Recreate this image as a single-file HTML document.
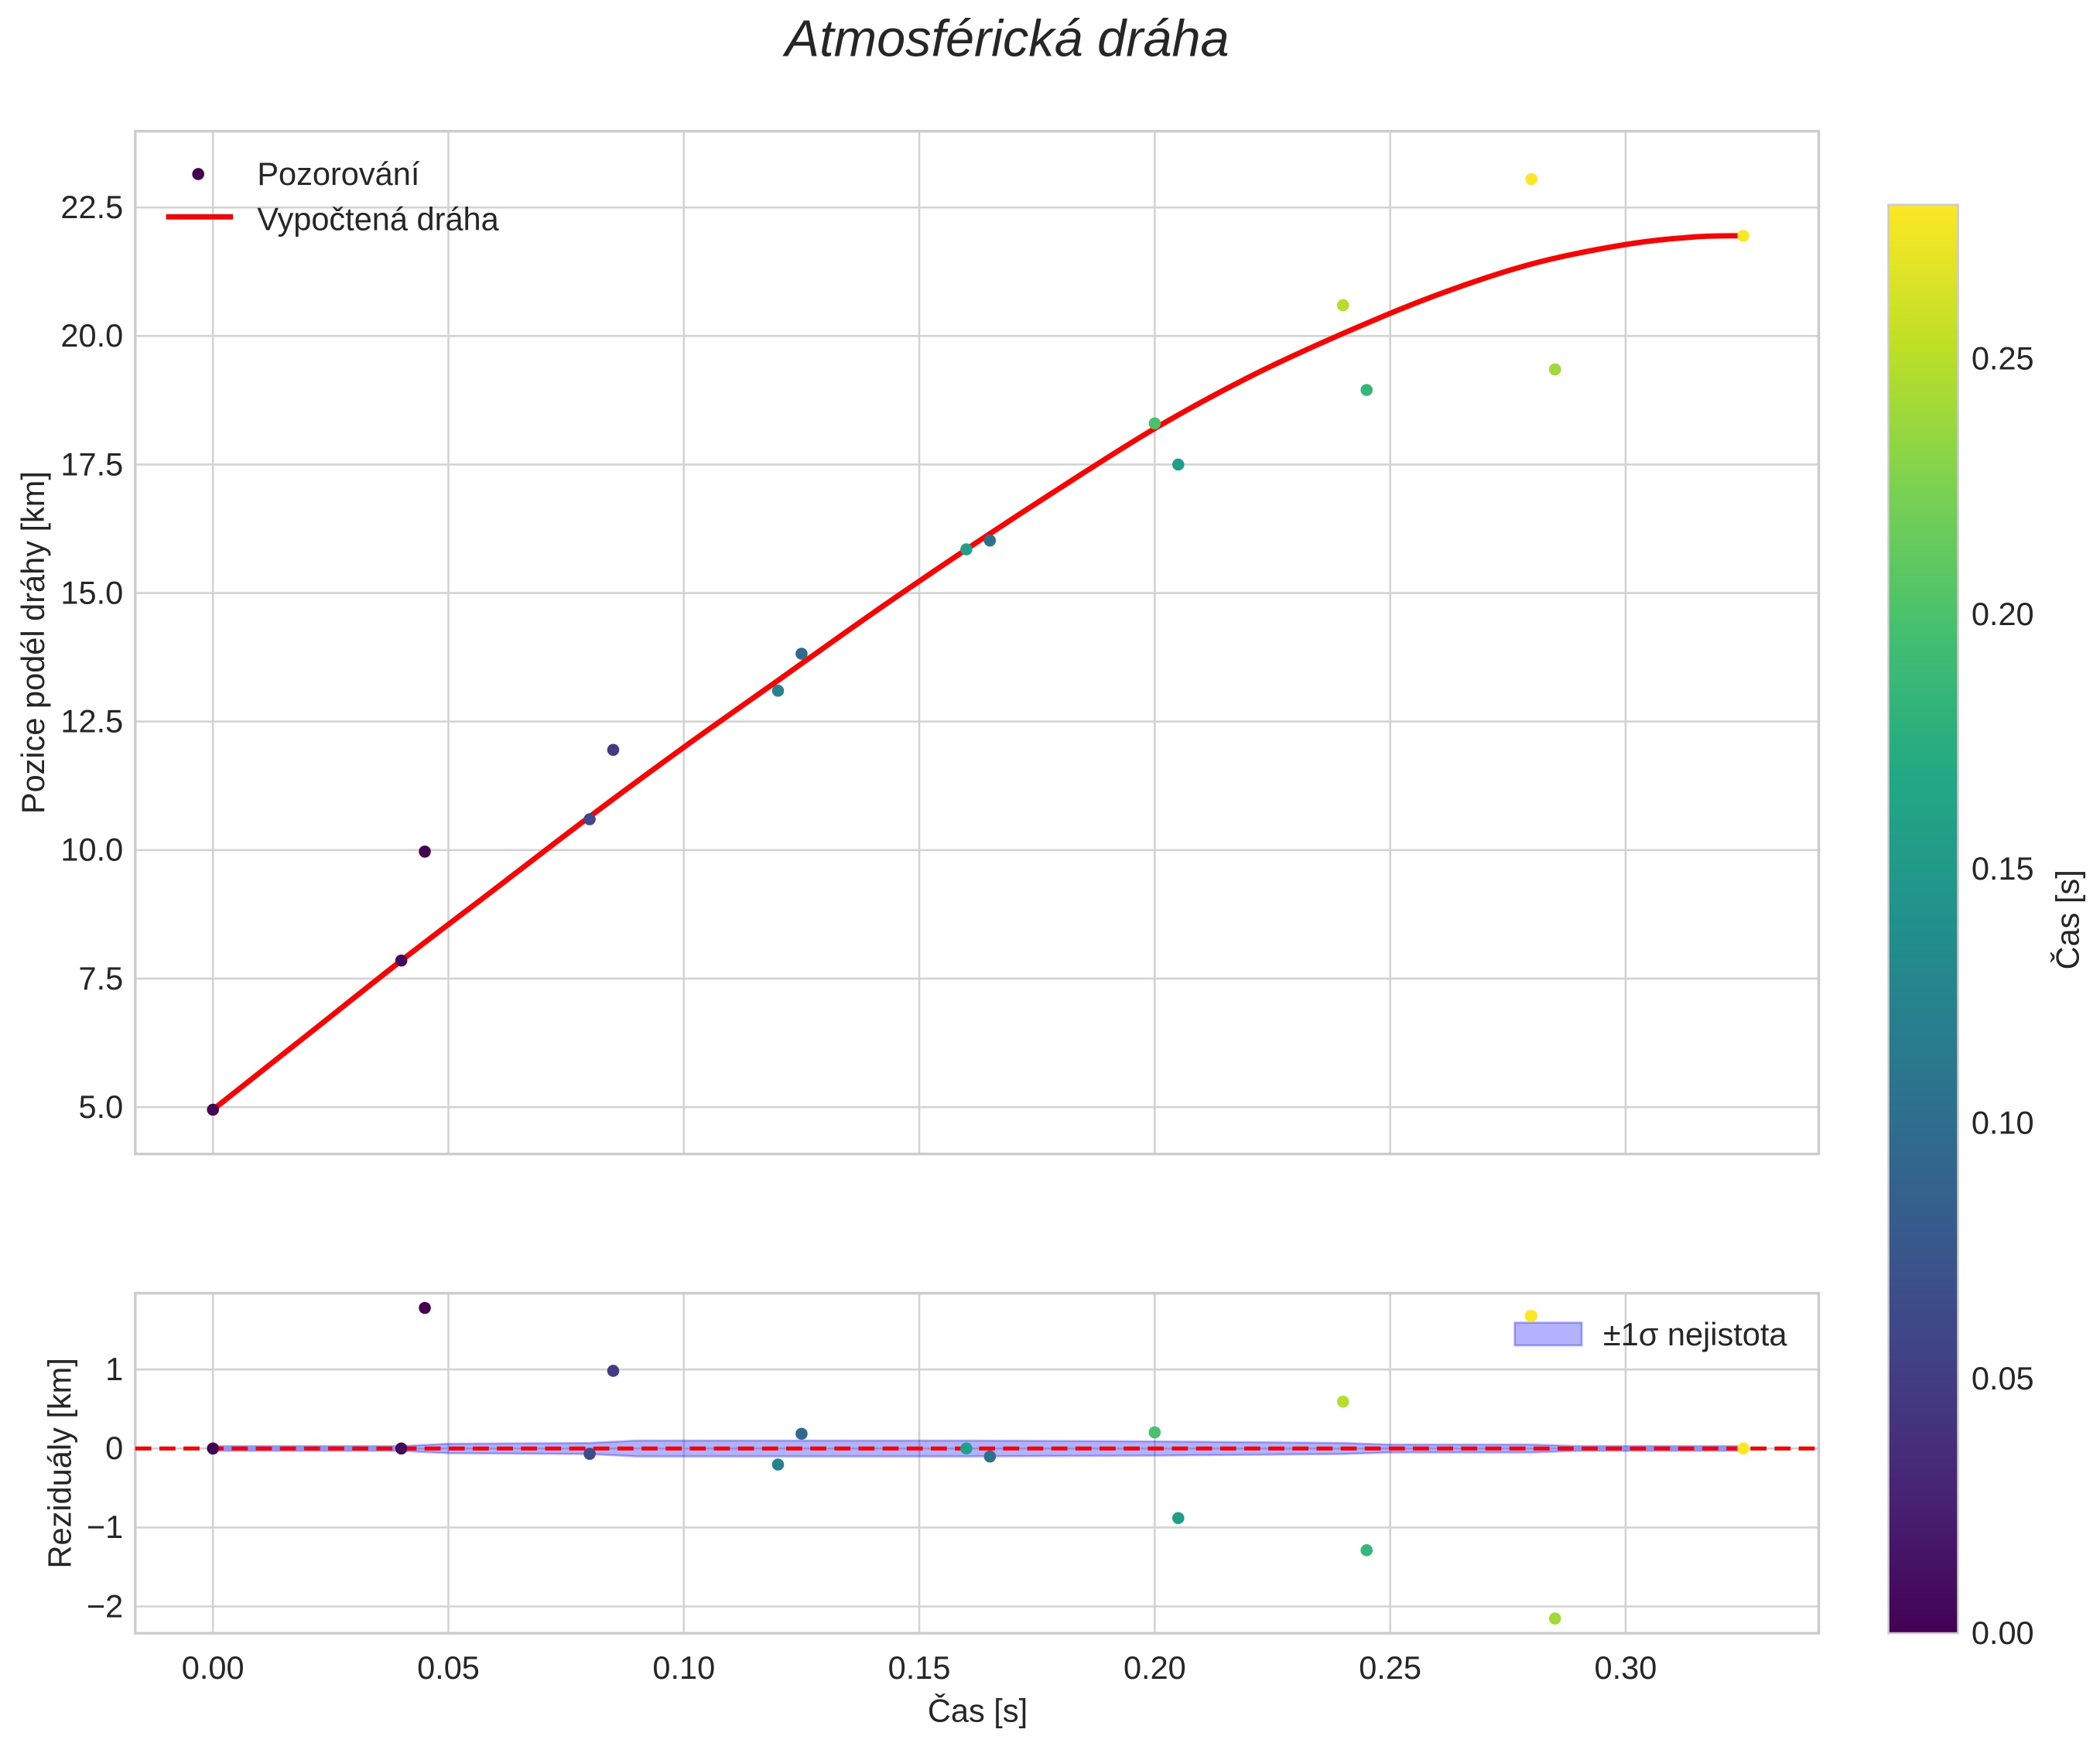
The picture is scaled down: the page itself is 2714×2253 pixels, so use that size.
<!DOCTYPE html>
<html><head><meta charset="utf-8"><style>html,body{margin:0;padding:0;background:#fff}svg{display:block}</style></head>
<body>
<svg id="s" xmlns="http://www.w3.org/2000/svg" width="2714" height="2253" viewBox="0 0 1568 1302" preserveAspectRatio="none" font-family="Liberation Sans, DejaVu Sans, sans-serif">
<defs>
<linearGradient id="vir" x1="0" y1="1" x2="0" y2="0">
<stop offset="0" stop-color="#440154"/><stop offset="0.1" stop-color="#482475"/><stop offset="0.2" stop-color="#414487"/><stop offset="0.3" stop-color="#355f8d"/><stop offset="0.4" stop-color="#2a788e"/><stop offset="0.5" stop-color="#21918c"/><stop offset="0.6" stop-color="#22a884"/><stop offset="0.7" stop-color="#44bf70"/><stop offset="0.8" stop-color="#7ad151"/><stop offset="0.9" stop-color="#bddf26"/><stop offset="1" stop-color="#fde725"/>
</linearGradient>
</defs>
<rect width="1568" height="1302" fill="#fff"/>
<text x="752" y="42" font-size="38.5" font-style="italic" text-anchor="middle" fill="#262626">Atmosférická dráha</text>
<g id="gtop"></g>
<g id="gbot"></g>
<rect x="1410" y="153" width="52" height="1067" fill="url(#vir)" stroke="#ccc" stroke-width="1.5"/>
<g font-size="24" fill="#262626">
<text x="1472" y="1228">0.00</text><text x="1472" y="1038">0.05</text><text x="1472" y="847">0.10</text><text x="1472" y="657">0.15</text><text x="1472" y="467">0.20</text><text x="1472" y="276">0.25</text>
</g>
<text transform="translate(1552,687) rotate(-90)" font-size="24" text-anchor="middle" fill="#262626">Čas [s]</text>
</svg>
<script>
(function(){
const NS="http://www.w3.org/2000/svg";
function el(p,n,a,t){const e=document.createElementNS(NS,n);for(const k in a)e.setAttribute(k,a[k]);if(t!==undefined)e.textContent=t;p.appendChild(e);return e;}
const X=t=>159+3516*t;
const YT=v=>827-(v-5)*38.4;
const YB=v=>1082-v*59;
const gTop=document.getElementById('gtop'),gBot=document.getElementById('gbot');
const L=101,R=1358,FS=24;
const xt=[0,0.05,0.1,0.15,0.2,0.25,0.3];
[[gTop,98,862],[gBot,966,1220]].forEach(function(a){var g=a[0],t=a[1],b=a[2];xt.forEach(v=>el(g,'line',{x1:X(v),x2:X(v),y1:t,y2:b,stroke:'#d3d3d3','stroke-width':1.5}));});
[5,7.5,10,12.5,15,17.5,20,22.5].forEach(v=>{el(gTop,'line',{x1:L,x2:R,y1:YT(v),y2:YT(v),stroke:'#d3d3d3','stroke-width':1.5});el(gTop,'text',{x:92,y:YT(v)+8,'font-size':FS,'text-anchor':'end',fill:'#262626'},v.toFixed(1));});
[1,0,-1,-2].forEach(v=>{el(gBot,'line',{x1:L,x2:R,y1:YB(v),y2:YB(v),stroke:'#d3d3d3','stroke-width':1.5});el(gBot,'text',{x:92,y:YB(v)+8,'font-size':FS,'text-anchor':'end',fill:'#262626'},v<0?'\u2212'+(-v):''+v);});
xt.forEach(v=>el(gBot,'text',{x:X(v),y:1254,'font-size':FS,'text-anchor':'middle',fill:'#262626'},v.toFixed(2)));
el(gBot,'text',{x:730,y:1286,'font-size':24,'text-anchor':'middle',fill:'#262626'},'Čas [s]');
el(gTop,'text',{transform:'translate(33,480) rotate(-90)','font-size':24,'text-anchor':'middle',fill:'#262626'},'Pozice podél dráhy [km]');
el(gBot,'text',{transform:'translate(53,1093) rotate(-90)','font-size':24,'text-anchor':'middle',fill:'#262626'},'Reziduály [km]');
el(gTop,'rect',{x:L,y:98,width:R-L,height:764,fill:'none',stroke:'#ccc','stroke-width':2});
el(gBot,'rect',{x:L,y:966,width:R-L,height:254,fill:'none',stroke:'#ccc','stroke-width':2});
const cv=[[0,4.95],[0.02,6.4],[0.04,7.85],[0.06,9.25],[0.08,10.65],[0.1,12.0],[0.12,13.3],[0.14,14.6],[0.16,15.85],[0.18,17.05],[0.2,18.2],[0.22,19.2],[0.24,20.05],[0.26,20.8],[0.28,21.4],[0.3,21.78],[0.315,21.93],[0.325,21.95]];
const P=cv.map(p=>[X(p[0]),YT(p[1])]);
let d='M'+P[0][0]+','+P[0][1];
for(let i=0;i<P.length-1;i++){const p0=P[Math.max(0,i-1)],p1=P[i],p2=P[i+1],p3=P[Math.min(P.length-1,i+2)];
const c1=[p1[0]+(p2[0]-p0[0])/6,p1[1]+(p2[1]-p0[1])/6],c2=[p2[0]-(p3[0]-p1[0])/6,p2[1]-(p3[1]-p1[1])/6];
d+=' C'+c1[0]+','+c1[1]+' '+c2[0]+','+c2[1]+' '+p2[0]+','+p2[1];}
el(gTop,'path',{d:d,fill:'none',stroke:'#ff0000','stroke-width':4,'stroke-linejoin':'round','stroke-linecap':'round'});
const pts=[[0,4.95,1082,'#440154'],[0.04,7.85,1082,'#46085c'],[0.045,9.97,977,'#440154'],[0.08,10.6,1086,'#3e4a89'],[0.085,11.95,1024,'#443983'],[0.12,13.1,1094,'#26828e'],[0.125,13.82,1071,'#31688e'],[0.16,15.85,1082,'#1fa088'],[0.165,16.02,1088,'#2c728e'],[0.2,18.3,1070,'#4ac16d'],[0.205,17.5,1134,'#1f9e89'],[0.24,20.6,1047,'#b5de2b'],[0.245,18.95,1158,'#35b779'],[0.28,23.05,983,'#fde725'],[0.285,19.35,1209,'#a0da39'],[0.325,21.95,1082,'#fde725']];
pts.forEach(p=>el(gTop,'circle',{cx:X(p[0]),cy:YT(p[1]),r:4.5,fill:p[3]}));
const bw=[[0,0.03],[0.04,0.03],[0.05,0.06],[0.08,0.07],[0.09,0.1],[0.16,0.1],[0.2,0.09],[0.24,0.07],[0.25,0.05],[0.28,0.05],[0.29,0.03],[0.325,0.03]];
const up=bw.map(p=>X(p[0])+','+YB(p[1])),dn=bw.slice().reverse().map(p=>X(p[0])+','+YB(-p[1]));
el(gBot,'polygon',{points:up.concat(dn).join(' '),fill:'rgba(0,0,255,0.3)',stroke:'rgba(0,0,255,0.3)','stroke-width':1.5});
el(gBot,'line',{x1:L,x2:R,y1:1082,y2:1082,stroke:'#ff0000','stroke-width':3,'stroke-dasharray':'12 6'});
pts.forEach(p=>el(gBot,'circle',{cx:X(p[0]),cy:p[2],r:4.5,fill:p[3]}));
el(gTop,'circle',{cx:148,cy:130,r:4.5,fill:'#440154'});
el(gTop,'text',{x:192,y:138,'font-size':FS,fill:'#262626'},'Pozorování');
el(gTop,'line',{x1:124,x2:174,y1:162,y2:162,stroke:'#ff0000','stroke-width':4});
el(gTop,'text',{x:192,y:172,'font-size':FS,fill:'#262626'},'Vypočtená dráha');
el(gBot,'rect',{x:1131,y:988,width:50,height:17,fill:'rgba(0,0,255,0.3)',stroke:'rgba(0,0,255,0.3)','stroke-width':1.5});
el(gBot,'circle',{cx:1143,cy:983,r:4.5,fill:'#fde725'});
el(gBot,'text',{x:1197,y:1005,'font-size':FS,fill:'#262626'},'±1σ nejistota');
})();
</script>
</body></html>
